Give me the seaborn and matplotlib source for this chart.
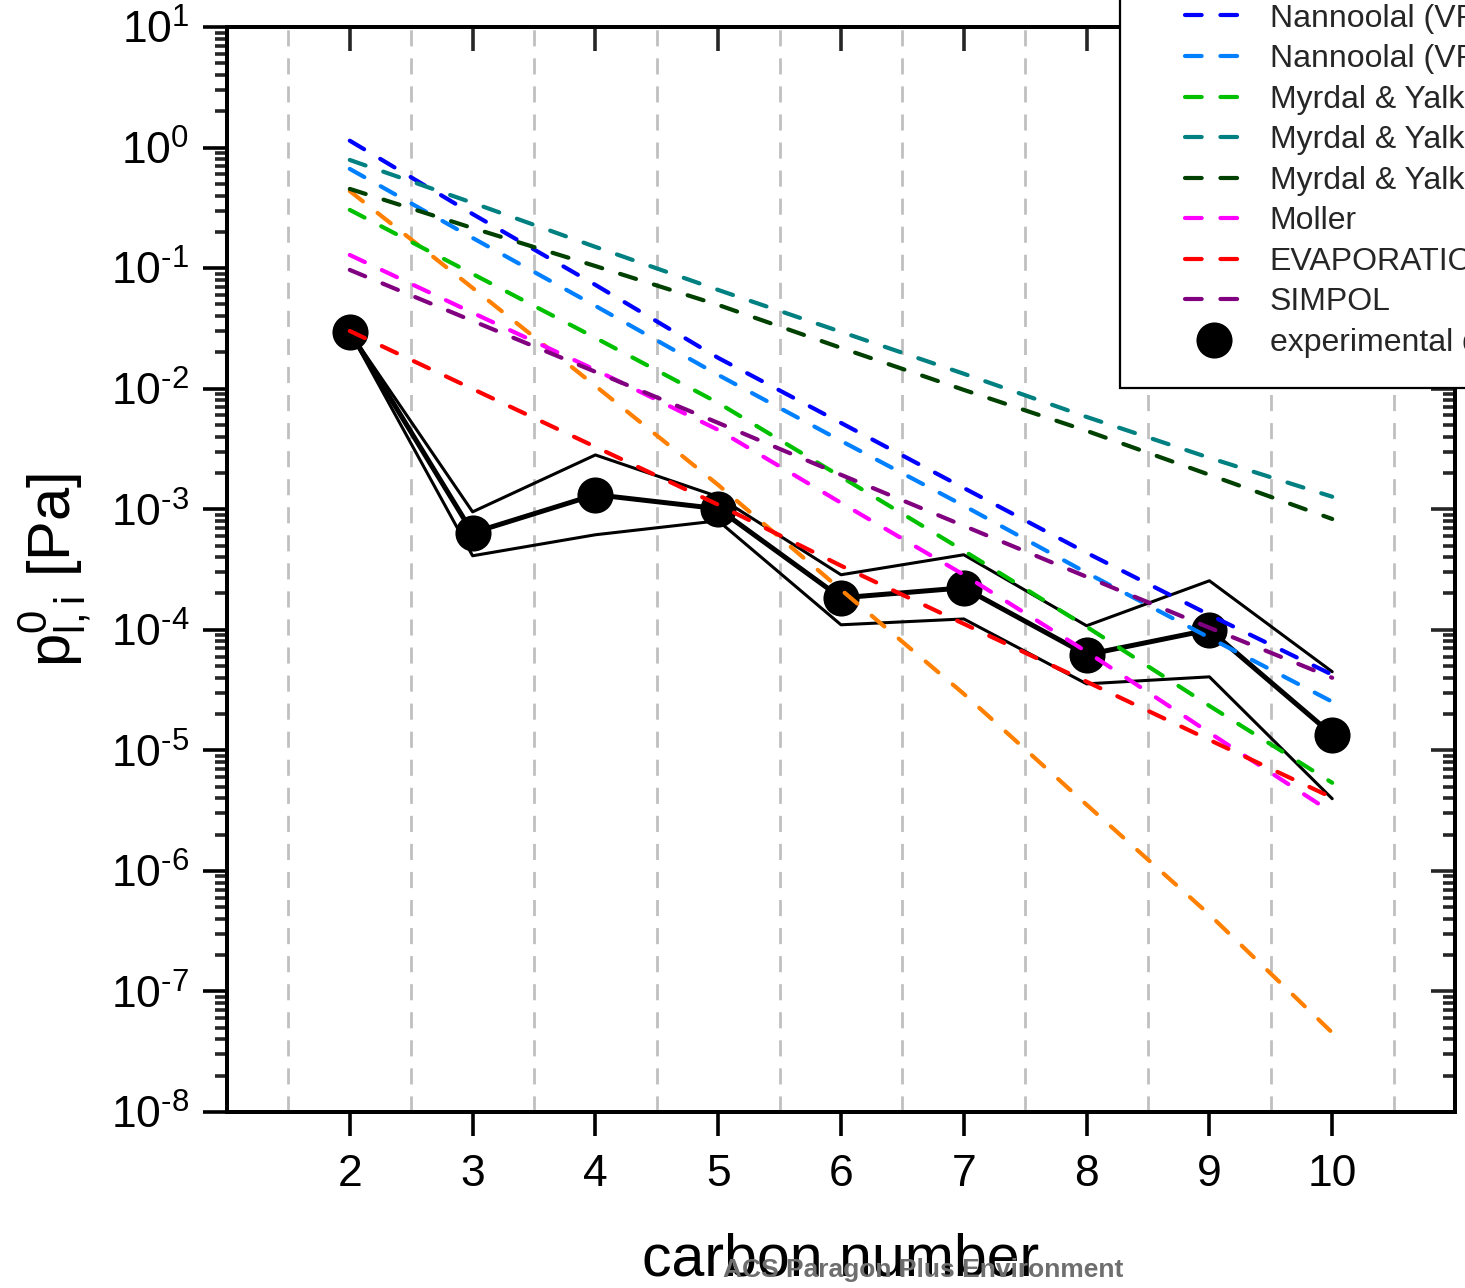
import numpy as np
import pandas as pd
import matplotlib
matplotlib.use("Agg")
import matplotlib.pyplot as plt
from matplotlib.lines import Line2D
from matplotlib.patches import Rectangle
from matplotlib.ticker import LogLocator, MultipleLocator, NullFormatter, FuncFormatter
import seaborn as sns

sns.set_theme(style="ticks")
plt.rcParams["font.family"] = ["Liberation Sans", "DejaVu Sans"]
plt.rcParams["mathtext.fontset"] = "custom"
plt.rcParams["mathtext.rm"] = "Liberation Sans"
plt.rcParams["axes.unicode_minus"] = False

# carbon number
carbon = [2, 3, 4, 5, 6, 7, 8, 9, 10]

# experimental vapour pressures [Pa] and their bounds
exp_mid = [2.96e-2, 6.37e-4, 1.32e-3, 1.01e-3, 1.84e-4, 2.23e-4, 6.21e-5, 1.00e-4, 1.35e-5]
exp_upper = [2.96e-2, 9.51e-4, 2.82e-3, 1.27e-3, 2.86e-4, 4.19e-4, 1.08e-4, 2.55e-4, 4.49e-5]
exp_lower = [2.96e-2, 4.11e-4, 6.14e-4, 8.02e-4, 1.10e-4, 1.23e-4, 3.56e-5, 4.07e-5, 3.97e-6]

# estimation methods
nann_joback = [0.436, 6.85e-2, 1.054e-2, 1.59e-3, 2.15e-4, 2.94e-5, 3.54e-6, 4.34e-7, 4.55e-8]
nann_nann = [1.14, 0.281, 7.26e-2, 1.80e-2, 5.2e-3, 1.50e-3, 4.35e-4, 1.33e-4, 4.24e-5]
nann_sb = [0.665, 0.178, 4.86e-2, 1.30e-2, 3.69e-3, 1.07e-3, 2.97e-4, 8.6e-5, 2.53e-5]
myrdal_nann = [0.304, 8.95e-2, 2.64e-2, 7.62e-3, 1.86e-3, 4.52e-4, 1.06e-4, 2.34e-5, 5.38e-6]
myrdal_sb = [0.789, 0.348, 0.150, 6.59e-2, 2.96e-2, 1.33e-2, 5.83e-3, 2.67e-3, 1.27e-3]
myrdal_joback = [0.454, 0.215, 0.104, 4.95e-2, 2.18e-2, 9.77e-3, 4.47e-3, 1.93e-3, 8.3e-4]
moller = [0.1285, 4.26e-2, 1.43e-2, 4.55e-3, 1.13e-3, 2.86e-4, 6.58e-5, 1.40e-5, 3.04e-6]
evaporation = [3.01e-2, 9.95e-3, 3.29e-3, 1.09e-3, 3.40e-4, 1.12e-4, 3.71e-5, 1.22e-5, 4.05e-6]
simpol = [9.66e-2, 3.65e-2, 1.38e-2, 5.20e-3, 1.93e-3, 7.28e-4, 2.75e-4, 1.04e-4, 4.0e-5]

methods = [
    ("Nannoolal (VP), Joback (Tb)", nann_joback, "#ff8000"),
    ("Nannoolal (VP), Nannoolal (Tb)", nann_nann, "#0000ff"),
    ("Nannoolal (VP), Stein & Brown (Tb)", nann_sb, "#0080ff"),
    ("Myrdal & Yalkowsky (VP), Nannoolal (Tb)", myrdal_nann, "#00c000"),
    ("Myrdal & Yalkowsky (VP), Stein & Brown (Tb)", myrdal_sb, "#008080"),
    ("Myrdal & Yalkowsky (VP), Joback (Tb)", myrdal_joback, "#004000"),
    ("Moller", moller, "#ff00ff"),
    ("EVAPORATION", evaporation, "#ff0000"),
    ("SIMPOL", simpol, "#800080"),
]

model_df = pd.concat(
    [pd.DataFrame({"carbon": carbon, "p": vals, "method": name}) for name, vals, _ in methods],
    ignore_index=True,
)
palette = {name: col for name, _, col in methods}
dash = (4, 4.5)

fig = plt.figure(figsize=(14.65, 12.88), dpi=100)
ax = fig.add_axes([227 / 1465, 1 - 1112 / 1288, 1228 / 1465, 1085 / 1288])

ax.set_yscale("log")

# experimental data first (models are drawn over it)
sns.lineplot(x=carbon, y=exp_upper, color="black", lw=2.2, ax=ax, zorder=3)
sns.lineplot(x=carbon, y=exp_lower, color="black", lw=2.2, ax=ax, zorder=3)
sns.lineplot(x=carbon, y=exp_mid, color="black", lw=3.6, marker="o",
             markersize=26, markeredgewidth=0, ax=ax, zorder=3)

sns.lineplot(data=model_df, x="carbon", y="p", hue="method", style="method",
             palette=palette, dashes={name: dash for name, _, _ in methods},
             lw=3, legend=False, ax=ax, zorder=4)
for line in ax.lines[3:]:
    line.set_dash_capstyle("round")

ax.set_xlim(1, 11)
ax.set_ylim(1e-8, 10)

ax.set_xticks(carbon)
ax.xaxis.set_minor_locator(MultipleLocator(1, offset=0.5))
ax.grid(False)
ax.grid(True, axis="x", which="minor", color="#c0c0c0", lw=2,
        linestyle=(0, (5.8, 4.3)))
ax.set_axisbelow(True)


def decade(v, pos):
    e = int(round(np.log10(v)))
    s = str(e).replace("-", "\u2010")
    return r"$\mathregular{10^{%s}}$" % s


ax.yaxis.set_major_locator(LogLocator(base=10, numticks=20))
ax.yaxis.set_major_formatter(FuncFormatter(decade))
ax.yaxis.set_minor_locator(LogLocator(base=10, subs=np.arange(2, 10), numticks=200))
ax.yaxis.set_minor_formatter(NullFormatter())

for s in ax.spines.values():
    s.set_linewidth(2.8)
    s.set_color("black")

ax.tick_params(axis="x", which="major", direction="out", length=17, width=2.6,
               labelsize=32, pad=13, top=False, colors="black")
ax.tick_params(axis="x", which="minor", length=0)
ax.tick_params(axis="y", which="major", direction="out", length=17, width=2.6,
               labelsize=32, pad=10, right=False, colors="black")
ax.tick_params(axis="y", which="minor", direction="out", length=9, width=2.6,
               right=False)

# inward ticks on the right and top
axr = ax.twinx()
axr.set_yscale("log")
axr.set_ylim(ax.get_ylim())
axr.yaxis.set_major_locator(LogLocator(base=10, numticks=20))
axr.yaxis.set_minor_locator(LogLocator(base=10, subs=np.arange(2, 10), numticks=200))
axr.tick_params(axis="y", which="major", direction="in", length=17, width=2.6,
                labelright=False)
axr.tick_params(axis="y", which="minor", direction="in", length=9, width=2.6,
                labelright=False)
axt = ax.twiny()
axt.set_xlim(ax.get_xlim())
axt.set_xticks(carbon)
axt.tick_params(axis="x", which="major", direction="in", length=17, width=2.6,
                labeltop=False)
for a in (axr, axt):
    a.grid(False)
    for s in a.spines.values():
        s.set_linewidth(2.8)
        s.set_color("black")

ax.set_xlabel("carbon number", fontsize=42.5, labelpad=27, color="black")
ax.set_ylabel(r"$\mathregular{p^{0}_{l,i}}$ [Pa]", fontsize=43, labelpad=12, color="black")

# legend, partly outside the canvas like the original
handles = [Line2D([], [], color=col, lw=3, linestyle=(0, dash), dash_capstyle="round")
           for _, _, col in methods]
labels = [name for name, _, _ in methods]
handles.append(Line2D([], [], color="black", marker="o", markersize=26,
                      markeredgewidth=0, linestyle="none"))
labels.append("experimental data")
leg = fig.legend(handles, labels, loc="lower left",
                 bbox_to_anchor=(1185 / 1465, 1 - 358 / 1288), frameon=False,
                 fontsize=23, handlelength=1.8, handletextpad=0.85,
                 labelspacing=0.33, borderpad=0, borderaxespad=0)
leg.set_zorder(6)
fig.patches.append(Rectangle((1120 / 1465, 1 - 388 / 1288), 0.5, 0.5,
                             transform=fig.transFigure, facecolor="white",
                             edgecolor="black", lw=1.6, zorder=4))

fig.text(923 / 1465, 1 - 1270 / 1288, "ACS Paragon Plus Environment",
         ha="center", va="center", fontsize=19, fontweight="bold",
         color="#6e6e6e")

fig.savefig("out.png", dpi=100)
